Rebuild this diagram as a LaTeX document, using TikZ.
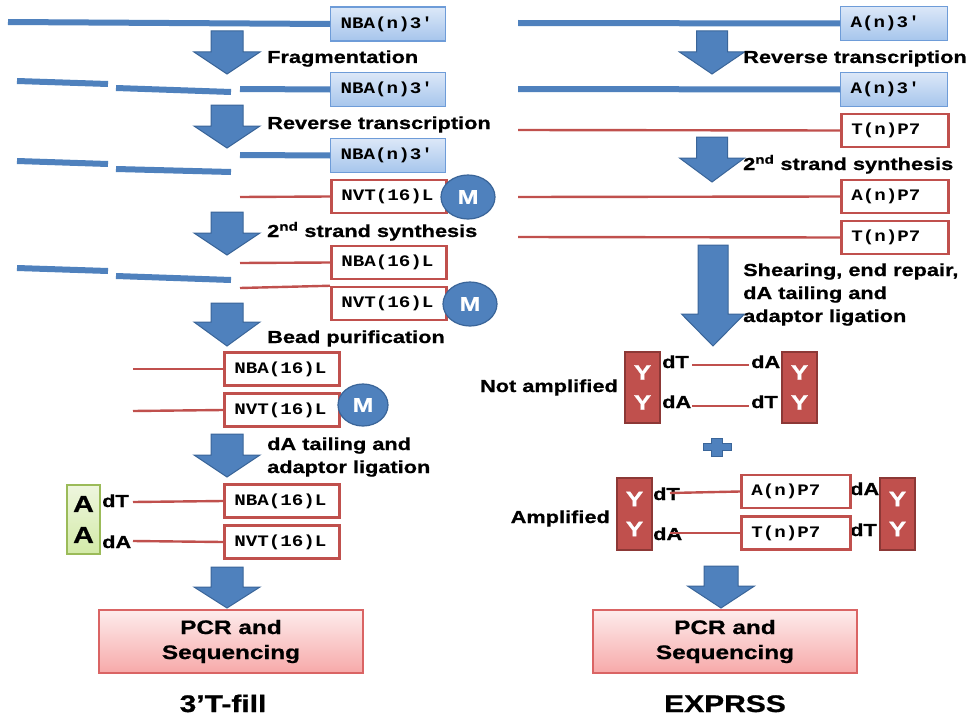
\documentclass[tikz,border=0pt]{standalone}
\usepackage{fontspec}
\setmainfont{Liberation Sans}
\newfontfamily\Lfont[FakeStretch=1.25, BoldFeatures={FakeBold=0.8}]{Liberation Sans}
\newfontfamily\Mfont[FakeStretch=1.2]{Liberation Mono}
\usetikzlibrary{shapes.geometric}
\definecolor{dblue}{HTML}{4F81BD}
\definecolor{dbluedk}{HTML}{3A6599}
\definecolor{rd}{HTML}{C0504D}
\definecolor{rddk}{HTML}{8C3836}
\definecolor{bxtop}{HTML}{DCE8F8}
\definecolor{bxbot}{HTML}{A6C5EC}
\definecolor{bxedge}{HTML}{6E9CD8}
\definecolor{gtop}{HTML}{EEF6DE}
\definecolor{gbot}{HTML}{D3EAA8}
\definecolor{gedge}{HTML}{9BBB59}
\definecolor{ptop}{HTML}{FDECEC}
\definecolor{pbot}{HTML}{F7A9A9}
\definecolor{pedge}{HTML}{DA6464}
\newcommand\blockarrow[6]{%
  \filldraw[fill=dblue,draw=dbluedk,line width=1pt,line join=miter]
   (#1-#5,#2) -- (#1+#5,#2) -- (#1+#5,#3) -- (#1+#6,#3) -- (#1,#4)
   -- (#1-#6,#3) -- (#1-#5,#3) -- cycle;}
\begin{document}
\begin{tikzpicture}[x=1pt,y=-1pt,
  lbl/.style={font=\Lfont\bfseries\fontsize{17.4}{23}\selectfont, inner sep=0, anchor=base west},
  lble/.style={lbl, anchor=base east},
  seqfont/.style={font=\Mfont\bfseries\fontsize{16}{17}\selectfont},
  bluebox/.style={seqfont, draw=bxedge, line width=1.3pt, top color=bxtop, bottom color=bxbot,
     inner xsep=10pt, inner ysep=0pt, minimum height=34pt, text width=#1, align=left, anchor=west},
  redbox/.style={seqfont, draw=rd, line width=2.5pt, fill=white,
     inner xsep=10pt, inner ysep=0pt, minimum height=33pt, text width=#1, align=left, anchor=west},
  bline/.style={draw=dblue, line width=6pt},
  rline/.style={draw=rd, line width=2.4pt},
  bead/.style={ellipse, fill=dblue, draw=dbluedk, line width=1.2pt, minimum width=54pt, minimum height=44pt,
     inner sep=0, text=white, font=\Lfont\bfseries\fontsize{20}{22}\selectfont},
  ybox/.style={fill=rd, draw=rddk, line width=1.5pt, minimum width=35pt, minimum height=71pt, inner sep=0,
     text=white, align=center, font=\Lfont\bfseries\fontsize{21}{30}\selectfont},
  pcr/.style={draw=pedge, line width=1.3pt, top color=ptop, bottom color=pbot, minimum width=264pt,
     minimum height=63pt, inner sep=0, align=center, font=\Lfont\bfseries\fontsize{19.5}{25}\selectfont},
  ttl/.style={font=\Lfont\bfseries\fontsize{24}{28}\selectfont, inner sep=0, anchor=base}
]
\useasboundingbox (0,0) rectangle (974,717);
\fill[white] (0,0) rectangle (974,717);

% ===================== LEFT: 3'T-fill =====================
\node[bluebox=95pt] (L1) at (330,24) {NBA(n)3′};
\coordinate (l1s) at (8,22);
\draw[bline] (l1s) -- (L1.west);
\blockarrow{227}{31}{52}{74}{16}{33}
\node[lbl] (tf1) at (267,63) {Fragmentation};

\node[bluebox=95pt] (L2) at (330,89.5) {NBA(n)3′};
\coordinate (l2a) at (17,81); \coordinate (l2b) at (108,84);
\coordinate (l2c) at (116,88); \coordinate (l2d) at (231,92);
\coordinate (l2e) at (240,89);
\draw[bline] (l2a) -- (l2b);
\draw[bline] (l2c) -- (l2d);
\draw[bline] (l2e) -- (L2.west);
\blockarrow{227}{105}{126}{148}{16}{33}
\node[lbl] (tf2) at (267,129) {Reverse transcription};

\node[bluebox=95pt] (L3) at (330,155.5) {NBA(n)3′};
\coordinate (l3a) at (17,161); \coordinate (l3b) at (108,164);
\coordinate (l3c) at (116,169); \coordinate (l3d) at (231,172);
\coordinate (l3e) at (240,155);
\draw[bline] (l3a) -- (l3b);
\draw[bline] (l3c) -- (l3d);
\draw[bline] (l3e) -- (L3.west);
\node[redbox=95pt] (L4) at (330,196.5) {NVT(16)L};
\coordinate (l4s) at (240,197);
\draw[rline] (l4s) -- (L4.west);
\node[bead] (M1) at (468,197) {M};
\blockarrow{227}{212}{233}{255}{16}{33}
\node[lbl] (tf3) at (267,237) {2\textsuperscript{nd} strand synthesis};

\coordinate (l5a) at (17,268); \coordinate (l5b) at (108,271);
\coordinate (l5c) at (116,276); \coordinate (l5d) at (231,280);
\draw[bline] (l5a) -- (l5b);
\draw[bline] (l5c) -- (l5d);
\node[redbox=95pt] (L5) at (330,262.5) {NBA(16)L};
\node[redbox=95pt] (L6) at (330,303.5) {NVT(16)L};
\coordinate (l5s) at (240,263);
\coordinate (l6s) at (240,288);
\draw[rline] (l5s) -- (L5.west);
\draw[rline] (l6s) -- (L6.north west);
\node[bead] (M2) at (470,304) {M};
\blockarrow{227}{303}{322}{346}{16}{33}
\node[lbl] (tf4) at (267,343) {Bead purification};

\node[redbox=95pt] (L7) at (223,369) {NBA(16)L};
\node[redbox=95pt] (L8) at (223,410) {NVT(16)L};
\coordinate (l7s) at (133,369);
\coordinate (l8s) at (133,411);
\draw[rline] (l7s) -- (L7.west);
\draw[rline] (l8s) -- (L8.west);
\node[bead, minimum width=50pt, minimum height=42pt] (M3) at (363,405) {M};
\blockarrow{227}{434}{455}{477}{16}{33}
\node[lbl, align=left] (tf5) at (267,473) {dA tailing and\\adaptor ligation};

\node[draw=gedge, line width=1.3pt, top color=gtop, bottom color=gbot, minimum width=33pt,
   minimum height=69pt, inner sep=0, align=center,
   font=\Lfont\bfseries\fontsize{23}{31}\selectfont] (G) at (83.5,519.5) {A\\A};
\node[lbl] (dT1) at (102,507) {dT};
\node[lbl] (dA1) at (102,548) {dA};
\node[redbox=95pt] (L9) at (223,501) {NBA(16)L};
\node[redbox=95pt] (L10) at (223,542) {NVT(16)L};
\coordinate (l9s) at (133,502);
\coordinate (l10s) at (133,541);
\draw[rline] (l9s) -- (L9.west);
\draw[rline] (l10s) -- (L10.west);
\blockarrow{227}{567}{587}{608}{16}{33}
\node[pcr] (P1) at (231,641.5) {PCR and\\Sequencing};
\node[ttl] (T1) at (223,712) {3’T-fill};

% ===================== RIGHT: EXPRSS =====================
\node[bluebox=87pt] (R1) at (840,23.5) {A(n)3′};
\coordinate (r1s) at (518,23);
\draw[bline] (r1s) -- (R1.west);
\blockarrow{712}{31}{52}{74}{15.5}{32.5}
\node[lbl] (tr1) at (743,63) {Reverse transcription};

\node[bluebox=87pt] (R2) at (840,89.5) {A(n)3′};
\coordinate (r2s) at (518,89);
\draw[bline] (r2s) -- (R2.west);
\node[redbox=87pt] (R3) at (840,130.5) {T(n)P7};
\coordinate (r3s) at (518,130);
\draw[rline] (r3s) -- (R3.west);
\blockarrow{712}{137}{158}{182}{15.5}{32.5}
\node[lbl] (tr2) at (743,170) {2\textsuperscript{nd} strand synthesis};

\node[redbox=87pt] (R4) at (840,196.5) {A(n)P7};
\coordinate (r4s) at (518,197);
\draw[rline] (r4s) -- (R4.west);
\node[redbox=87pt] (R5) at (840,237.5) {T(n)P7};
\coordinate (r5s) at (518,237);
\draw[rline] (r5s) -- (R5.west);
\blockarrow{713}{245}{314}{346}{15}{31.5}
\node[lbl, align=left] (tr3) at (743,322) {Shearing, end repair,\\dA tailing and\\adaptor ligation};

% Not amplified
\node[ybox] (YL1) at (642.5,387.5) {Y\\Y};
\node[ybox] (YR1) at (799.5,387.5) {Y\\Y};
\node[lbl] (na1) at (662,368) {dT};
\node[lbl] (na2) at (662,408) {dA};
\node[lbl] (na3) at (751,368) {dA};
\node[lbl] (na4) at (751,408) {dT};
\coordinate (nl1a) at (692,365); \coordinate (nl1b) at (749,365);
\coordinate (nl2a) at (692,406); \coordinate (nl2b) at (749,406);
\draw[rline] (nl1a) -- (nl1b);
\draw[rline] (nl2a) -- (nl2b);
\node[lble] (NA) at (618,392) {Not amplified};

% plus
\filldraw[fill=dblue, draw=dbluedk, line width=0.8pt]
  (711.5,438) -- (722.5,438) -- (722.5,443.5) -- (731,443.5) -- (731,450.5) -- (722.5,450.5)
  -- (722.5,456) -- (711.5,456) -- (711.5,450.5) -- (703,450.5) -- (703,443.5) -- (711.5,443.5) -- cycle;

% Amplified
\node[ybox, minimum height=72pt] (YL2) at (634.5,514) {Y\\Y};
\node[ybox, minimum height=72pt] (YR2) at (897.5,514) {Y\\Y};
\node[lbl] (am1) at (653,500) {dT};
\node[lbl] (am2) at (653,540) {dA};
\node[lbl] (am3) at (850,495) {dA};
\node[lbl] (am4) at (850,536) {dT};
\node[redbox=89pt] (R6) at (740,491.5) {A(n)P7};
\node[redbox=89pt] (R7) at (740,533) {T(n)P7};
\coordinate (r6s) at (670,493);
\coordinate (r7s) at (670,533);
\draw[rline] (r6s) -- (R6.west);
\draw[rline] (r7s) -- (R7.west);
\node[lble] (AM) at (610,523) {Amplified};

\blockarrow{721}{566}{586}{608}{17}{33.5}
\node[pcr] (P2) at (725,641.5) {PCR and\\Sequencing};
\node[ttl] (T2) at (725,712) {EXPRSS};
\end{tikzpicture}
\end{document}
